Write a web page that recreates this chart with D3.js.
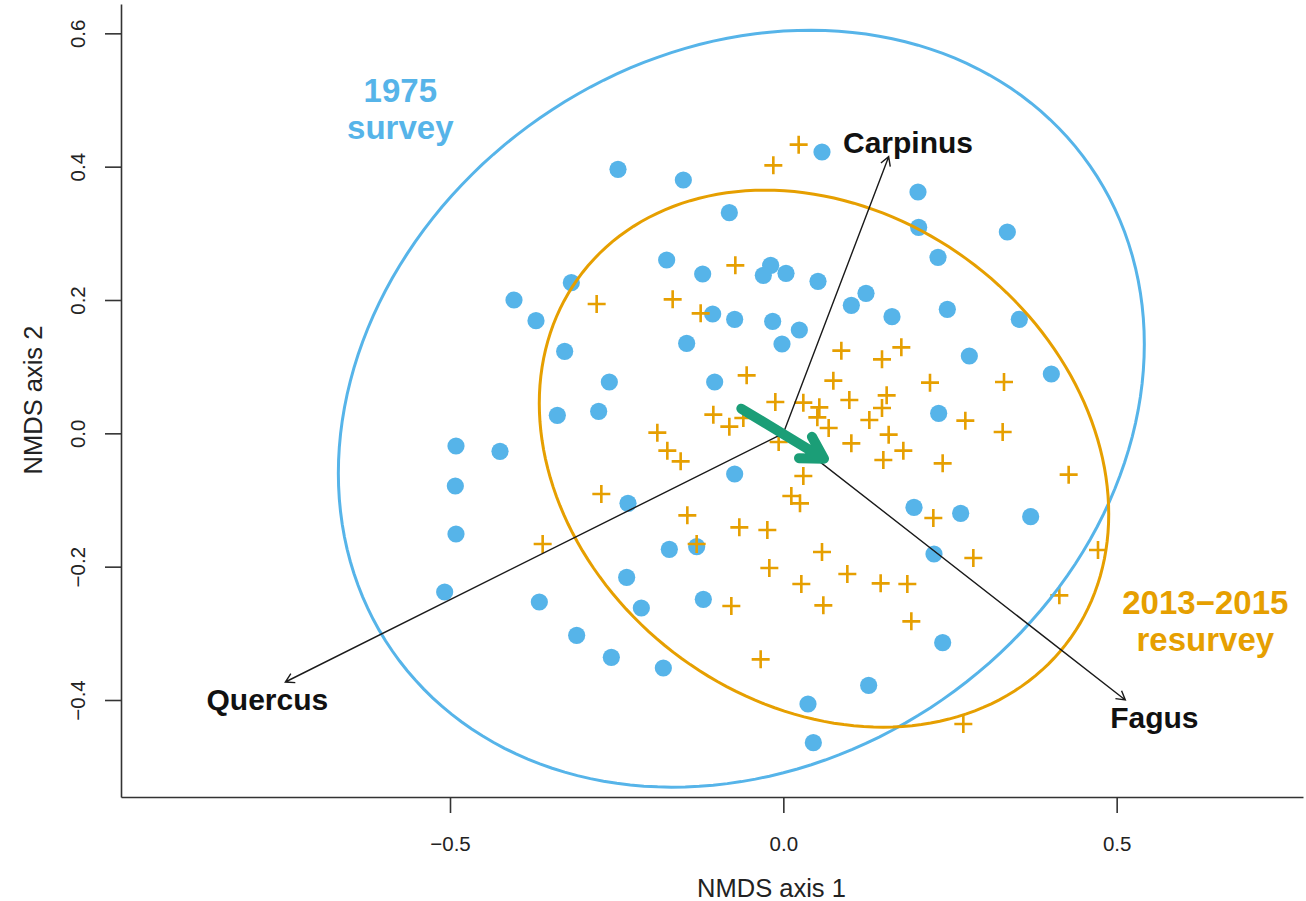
<!DOCTYPE html>
<html>
<head>
<meta charset="utf-8">
<script src="https://cdn.jsdelivr.net/npm/d3@7"></script>
<style>
  body { margin: 0; background: #fff; }
  svg text { font-family: "Liberation Sans", Arial, Helvetica, sans-serif; }
</style>
</head>
<body>
<div id="nmdsPlot"></div>
<script>
// site scores of the 1975 survey (NMDS axis 1 / axis 2)
const survey1975X = [-0.248, -0.150, 0.058, -0.081, 0.202, 0.203, 0.336, 0.232, -0.175, -0.121,
  -0.019, -0.030, 0.004, 0.052, 0.124, 0.102, 0.163, -0.106, -0.073, -0.016,
  0.024, -0.002, -0.145, -0.261, -0.277, -0.103, -0.318, -0.404, -0.371, -0.328,
  -0.339, -0.491, -0.425, 0.246, 0.354, 0.279, 0.402, 0.233, -0.492, -0.491,
  -0.508, -0.366, -0.310, -0.258, -0.233, -0.235, -0.213, -0.180, -0.073, -0.171,
  -0.130, -0.120, 0.128, 0.037, 0.045, 0.196, 0.266, 0.371, 0.226, 0.239];
const survey1975Y = [0.396, 0.380, 0.422, 0.331, 0.362, 0.309, 0.302, 0.264, 0.260, 0.239,
  0.252, 0.237, 0.240, 0.228, 0.210, 0.192, 0.175, 0.179, 0.171, 0.168,
  0.155, 0.134, 0.135, 0.077, 0.033, 0.077, 0.226, 0.200, 0.169, 0.123,
  0.027, -0.019, -0.027, 0.186, 0.171, 0.116, 0.089, 0.030, -0.079, -0.151,
  -0.238, -0.253, -0.303, -0.336, -0.105, -0.216, -0.262, -0.352, -0.061, -0.174,
  -0.170, -0.249, -0.378, -0.406, -0.464, -0.111, -0.120, -0.125, -0.181, -0.314];

// site scores of the 2013-2015 resurvey
const resurveyX = [0.023, -0.015, -0.072, -0.280, -0.166, -0.124, 0.087, 0.148, 0.177, -0.055,
  0.075, 0.155, 0.099, -0.012, 0.030, 0.054, -0.105, -0.081, 0.148, 0.129,
  0.051, 0.068, 0.158, -0.189, 0.102, -0.007, -0.060, -0.174, -0.154, 0.030,
  0.220, 0.180, 0.150, 0.239, 0.331, 0.273, 0.329, 0.428, 0.225, 0.285,
  0.472, 0.146, 0.186, 0.414, 0.192, 0.270, 0.012, 0.025, -0.273, -0.144,
  -0.066, -0.024, -0.130, 0.058, -0.021, 0.096, 0.027, 0.060, -0.078, -0.034, -0.361];
const resurveyY = [0.433, 0.402, 0.252, 0.194, 0.201, 0.180, 0.124, 0.111, 0.129, 0.087,
  0.079, 0.057, 0.050, 0.047, 0.046, 0.039, 0.028, 0.010, 0.038, 0.020,
  0.024, 0.008, -0.002, 0.001, -0.015, -0.013, 0.023, -0.026, -0.042, -0.064,
  0.076, -0.026, -0.040, -0.045, 0.077, 0.019, 0.002, -0.062, -0.127, -0.187,
  -0.175, -0.225, -0.226, -0.243, -0.282, -0.436, -0.094, -0.105, -0.091, -0.123,
  -0.141, -0.145, -0.166, -0.178, -0.202, -0.211, -0.226, -0.258, -0.259, -0.339, -0.166];

// group centroids and dispersion ellipses (covariance in axis units)
const groupCentroidX = [-0.063, 0.061];
const groupCentroidY = [0.037, -0.038];
const groupCovXX = [0.3654, 0.1824];
const groupCovYY = [0.3223, 0.1622];
const groupCovXY = [0.0585, -0.0355];
const groupLabelLines = [["1975", "survey"], ["2013\u22122015", "resurvey"]];
const groupLabelX = [-0.5745, 0.633];
const groupLabelY = [0.4867, -0.281];

// fitted species vectors
const speciesNames = ["Carpinus", "Quercus", "Fagus"];
const speciesX = [0.158, -0.747, 0.513];
const speciesY = [0.415, -0.373, -0.400];
const speciesLabelX = [0.187, -0.774, 0.5565];
const speciesLabelY = [0.437, -0.3985, -0.4264];

const xTicks = [-0.5, 0, 0.5];
const yTicks = [-0.4, -0.2, 0, 0.2, 0.4, 0.6];

//define positional parameters
let svgWidth = 1306;
let svgHeight = 901;
let blue = "#56B4E9";
let orange = "#E69F00";
let green = "#1B9E77";

let svg = d3.select("#nmdsPlot")
  .append("svg")
  .attr("width", svgWidth)
  .attr("height", svgHeight);

//scales share one unit length (asp = 1)
let xScale = d3.scaleLinear()
  .domain([-0.9935, 0.7795])
  .range([121, 1303]);
let yScale = d3.scaleLinear()
  .domain([-0.5455, 0.644])
  .range([797, 4]);

//x axis
let xAxis = d3.axisBottom(xScale)
  .tickValues(xTicks)
  .tickSize(16)
  .tickSizeOuter(0)
  .tickFormat(d3.format(".1f"));
let xg = svg.append("g")
  .attr("transform", "translate(0,797)")
  .call(xAxis);
xg.selectAll("path, line").attr("stroke", "#333").attr("stroke-width", 1.6);
xg.selectAll("text")
  .attr("y", 54)
  .attr("dy", 0)
  .attr("fill", "#222")
  .style("font-size", "20.5px");

//y axis, labels parallel to the axis
let yAxis = d3.axisLeft(yScale)
  .tickValues(yTicks)
  .tickSize(16)
  .tickSizeOuter(0)
  .tickFormat(d3.format(".1f"));
let yg = svg.append("g")
  .attr("transform", "translate(121,0)")
  .call(yAxis);
yg.selectAll("path, line").attr("stroke", "#333").attr("stroke-width", 1.6);
yg.selectAll("text")
  .attr("x", 0)
  .attr("y", -36)
  .attr("dy", 0)
  .attr("transform", "rotate(-90)")
  .attr("text-anchor", "middle")
  .attr("fill", "#222")
  .style("font-size", "20.5px");

//axis titles
svg.append("text")
  .attr("x", 771.5)
  .attr("y", 897)
  .attr("text-anchor", "middle")
  .attr("fill", "#222")
  .style("font-size", "25.5px")
  .text("NMDS axis 1");
svg.append("text")
  .attr("transform", "translate(42,400)rotate(-90)")
  .attr("text-anchor", "middle")
  .attr("fill", "#222")
  .style("font-size", "25.5px")
  .text("NMDS axis 2");

//1975 sites
svg.append("g").selectAll("circle")
  .data(survey1975X)
  .join("circle")
  .attr("cx", d => xScale(d))
  .attr("cy", (d, i) => yScale(survey1975Y[i]))
  .attr("r", 8.6)
  .attr("fill", blue);

//resurvey sites
let plusSize = 9;
svg.append("g").selectAll("path")
  .data(resurveyX)
  .join("path")
  .attr("d", (d, i) => {
    let px = xScale(d);
    let py = yScale(resurveyY[i]);
    return `M${px - plusSize},${py}H${px + plusSize}M${px},${py - plusSize}V${py + plusSize}`;
  })
  .attr("stroke", orange)
  .attr("stroke-width", 2.6)
  .attr("fill", "none");

//dispersion ellipses from the covariance (Cholesky factor)
let angles = d3.range(0, 2 * Math.PI, Math.PI / 90);
let ellipseColors = [blue, orange];
groupCentroidX.forEach((cx, g) => {
  let l11 = Math.sqrt(groupCovXX[g]);
  let l21 = groupCovXY[g] / l11;
  let l22 = Math.sqrt(groupCovYY[g] - l21 * l21);
  let line = d3.line()
    .x(t => xScale(cx + l11 * Math.cos(t)))
    .y(t => yScale(groupCentroidY[g] + l21 * Math.cos(t) + l22 * Math.sin(t)))
    .curve(d3.curveLinearClosed);
  svg.append("path")
    .datum(angles)
    .attr("d", line)
    .attr("fill", "none")
    .attr("stroke", ellipseColors[g])
    .attr("stroke-width", 3);
});

//arrow with open head, R style (30 degrees)
function arrowPath(x1, y1, x2, y2, headLen) {
  let a = Math.atan2(y2 - y1, x2 - x1);
  let h1x = x2 - headLen * Math.cos(a - Math.PI / 6);
  let h1y = y2 - headLen * Math.sin(a - Math.PI / 6);
  let h2x = x2 - headLen * Math.cos(a + Math.PI / 6);
  let h2y = y2 - headLen * Math.sin(a + Math.PI / 6);
  return `M${x1},${y1}L${x2},${y2}M${h1x},${h1y}L${x2},${y2}L${h2x},${h2y}`;
}

//species vectors
speciesNames.forEach((name, i) => {
  svg.append("path")
    .attr("d", arrowPath(xScale(0), yScale(0), xScale(speciesX[i]), yScale(speciesY[i]), 10))
    .attr("fill", "none")
    .attr("stroke", "#1a1a1a")
    .attr("stroke-width", 1.4);
  svg.append("text")
    .attr("x", xScale(speciesLabelX[i]))
    .attr("y", yScale(speciesLabelY[i]) + 10.8)
    .attr("text-anchor", "middle")
    .attr("font-weight", "bold")
    .attr("fill", "#111")
    .style("font-size", "30px")
    .text(name);
});

//shift of the group centroids
svg.append("path")
  .attr("d", arrowPath(xScale(groupCentroidX[0]), yScale(groupCentroidY[0]),
    xScale(groupCentroidX[1]), yScale(groupCentroidY[1]), 25))
  .attr("fill", "none")
  .attr("stroke", green)
  .attr("stroke-width", 10)
  .attr("stroke-linecap", "round")
  .attr("stroke-linejoin", "round");

//group labels
groupLabelLines.forEach((lines, g) => {
  let t = svg.append("text")
    .attr("x", xScale(groupLabelX[g]))
    .attr("y", yScale(groupLabelY[g]))
    .attr("text-anchor", "middle")
    .attr("font-weight", "bold")
    .attr("fill", ellipseColors[g])
    .style("font-size", "33px");
  t.append("tspan")
    .attr("x", xScale(groupLabelX[g]))
    .attr("dy", "-0.215em")
    .text(lines[0]);
  t.append("tspan")
    .attr("x", xScale(groupLabelX[g]))
    .attr("dy", "1.13em")
    .text(lines[1]);
});
</script>
</body>
</html>
